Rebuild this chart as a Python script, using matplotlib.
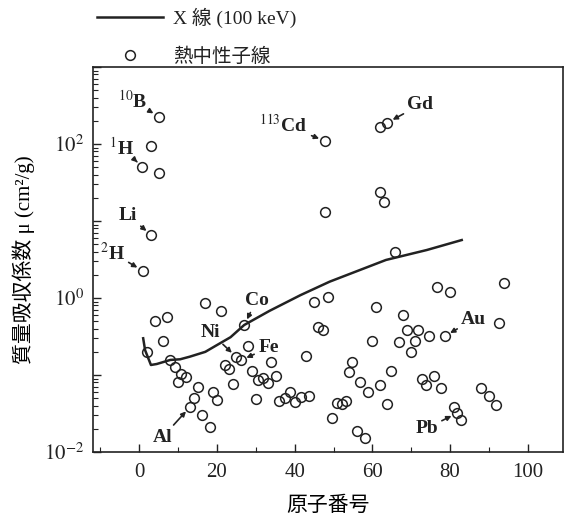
import matplotlib
matplotlib.use('Agg')
import matplotlib.pyplot as plt
from matplotlib.ticker import MultipleLocator, LogLocator, NullFormatter

# X線 (100 keV) の質量吸収係数
xray_z = [1, 1.5, 3, 4.5, 8, 10.5, 13, 17, 20, 23.5, 27, 33.5, 41.5, 49, 63.5, 74, 83]
xray_mu = [0.30, 0.21, 0.135, 0.139, 0.157, 0.16, 0.173, 0.20, 0.245, 0.31, 0.446,
           0.68, 1.09, 1.63, 3.12, 4.2, 5.66]

# 熱中性子線
neutron_z = [5.0, 3.1, 0.7, 5.0, 3.1, 0.9, 47.8, 47.8, 61.9, 63.8, 61.9, 62.9, 65.8,
             17.0, 21.0, 4.1, 7.1, 6.1, 27.0, 2.1, 8.0, 9.2, 10.7, 12.0, 9.9, 15.0, 14.2,
             13.1, 16.2, 18.1, 19.1, 20.0,
             25.0, 22.1, 23.2, 26.1, 28.0, 34.0, 28.9, 30.6, 31.9, 33.1, 35.2, 24.1, 30.0,
             36.0, 37.4, 38.8, 40.0, 41.7, 43.8, 43.0, 45.0, 48.6, 46.1, 47.2, 49.6,
             60.9, 59.8, 67.9, 68.8, 71.7, 70.9, 66.9, 69.9, 74.7, 78.6, 76.7, 79.9, 93.8, 92.7,
             54.8, 53.9, 56.9, 58.9, 61.9, 64.9, 63.8, 72.9, 73.9, 75.9, 77.7, 80.9, 81.8,
             82.9, 87.9, 89.9, 91.9, 50.8, 52.1, 53.2, 56.1, 58.1]
neutron_mu = [226, 94, 51, 42, 6.6, 2.26, 110, 13.2, 168, 189, 23.6, 17.8, 4.0,
              0.853, 0.684, 0.51, 0.57, 0.28, 0.446, 0.20, 0.158, 0.128, 0.103, 0.095, 0.080,
              0.069, 0.051, 0.0387, 0.030, 0.021, 0.061, 0.048,
              0.171, 0.134, 0.121, 0.155, 0.236, 0.149, 0.112, 0.086, 0.091, 0.078, 0.097,
              0.076, 0.049, 0.046, 0.050, 0.060, 0.045, 0.052, 0.054, 0.177, 0.88, 1.02,
              0.417, 0.384, 0.028,
              0.771, 0.279, 0.60, 0.384, 0.384, 0.279, 0.266, 0.201, 0.32, 0.32, 1.38, 1.19,
              1.55, 0.478,
              0.149, 0.108, 0.080, 0.060, 0.074, 0.114, 0.042, 0.089, 0.074, 0.097, 0.068,
              0.0387, 0.032, 0.026, 0.067, 0.053, 0.041, 0.043, 0.0416, 0.046, 0.019, 0.0151]

# labelled elements and the point each one refers to
label_names = [r'$^{10}$B', r'$^{1}$H', 'Li', r'$^{2}$H', r'$^{113}$Cd', 'Gd',
               'Co', 'Ni', 'Fe', 'Au', 'Al', 'Pb']
label_z = [5.0, 0.7, 3.1, 0.9, 47.8, 63.8, 27.0, 25.0, 26.1, 78.6, 13.1, 81.8]
label_mu = [226, 51, 6.6, 2.26, 110, 189, 0.446, 0.171, 0.155, 0.32, 0.0387, 0.032]
# text offsets (points)
label_off = [(-19, 12), (-15, 14), (-17, 14), (-22, 13), (-30, 11.5), (24, 13),
             (9, 18), (-19, 18), (20, 9), (21, 12), (-20, -22), (-22, -11)]

ink = '#222222'
fam = ['Liberation Serif', 'Noto Sans CJK JP']
plt.rcParams['font.family'] = fam
plt.rcParams['mathtext.fontset'] = 'stix'
plt.rcParams['text.color'] = ink
plt.rcParams['axes.edgecolor'] = ink
plt.rcParams['xtick.color'] = ink
plt.rcParams['ytick.color'] = ink

fig = plt.figure(figsize=(5.65, 5.15), dpi=100)
ax = fig.add_axes([0.164, 0.1223, 0.832, 0.7476])

line, = ax.plot(xray_z, xray_mu, color=ink, lw=1.8, label='X 線 (100 keV)')
pts, = ax.plot(neutron_z, neutron_mu, 'o', ms=7, mfc='none', mec=ink, mew=1.1,
               label='熱中性子線')

for name, z, mu, off in zip(label_names, label_z, label_mu, label_off):
    ax.annotate(name, xy=(z, mu), xytext=off, textcoords='offset points',
                ha='center', va='center', fontsize=14, fontweight='bold',
                arrowprops=dict(arrowstyle='-|>', color=ink, lw=1.2,
                                mutation_scale=7, shrinkA=1, shrinkB=4.5))

ax.set_yscale('log')
ax.set_xlim(-12, 109)
ax.set_ylim(1e-2, 1e3)
ax.xaxis.set_major_locator(MultipleLocator(20))
ax.xaxis.set_minor_locator(MultipleLocator(10))
ax.set_yticks([1e-2, 1e-1, 1e0, 1e1, 1e2, 1e3],
              [r'$10^{-2}$', '', r'$10^{0}$', '', r'$10^{2}$', ''])
ax.yaxis.set_minor_locator(LogLocator(base=10, subs=range(2, 10), numticks=20))
ax.yaxis.set_minor_formatter(NullFormatter())
ax.tick_params(which='both', direction='in', top=False, right=False, labelsize=15)
ax.tick_params(which='major', length=6, width=1)
ax.tick_params(which='minor', length=3.5, width=0.8)
ax.tick_params(axis='x', pad=8)
ax.tick_params(axis='y', pad=6)
for s in ax.spines.values():
    s.set_linewidth(1.2)

ax.set_xlabel('原子番号', fontsize=15)
ax.xaxis.set_label_coords(0.5, -0.115)
ax.set_ylabel('質量吸収係数 μ (cm²/g)', fontsize=15)
ax.yaxis.set_label_coords(-0.123, 0.5)

fig.legend(handles=[line, pts], loc='upper left', bbox_to_anchor=(0.172, 0.985),
           frameon=False, fontsize=14, handlelength=3.4, handletextpad=0.5,
           labelspacing=1.0, borderpad=0, borderaxespad=0)

fig.savefig('out.png', dpi=100, facecolor='white')
